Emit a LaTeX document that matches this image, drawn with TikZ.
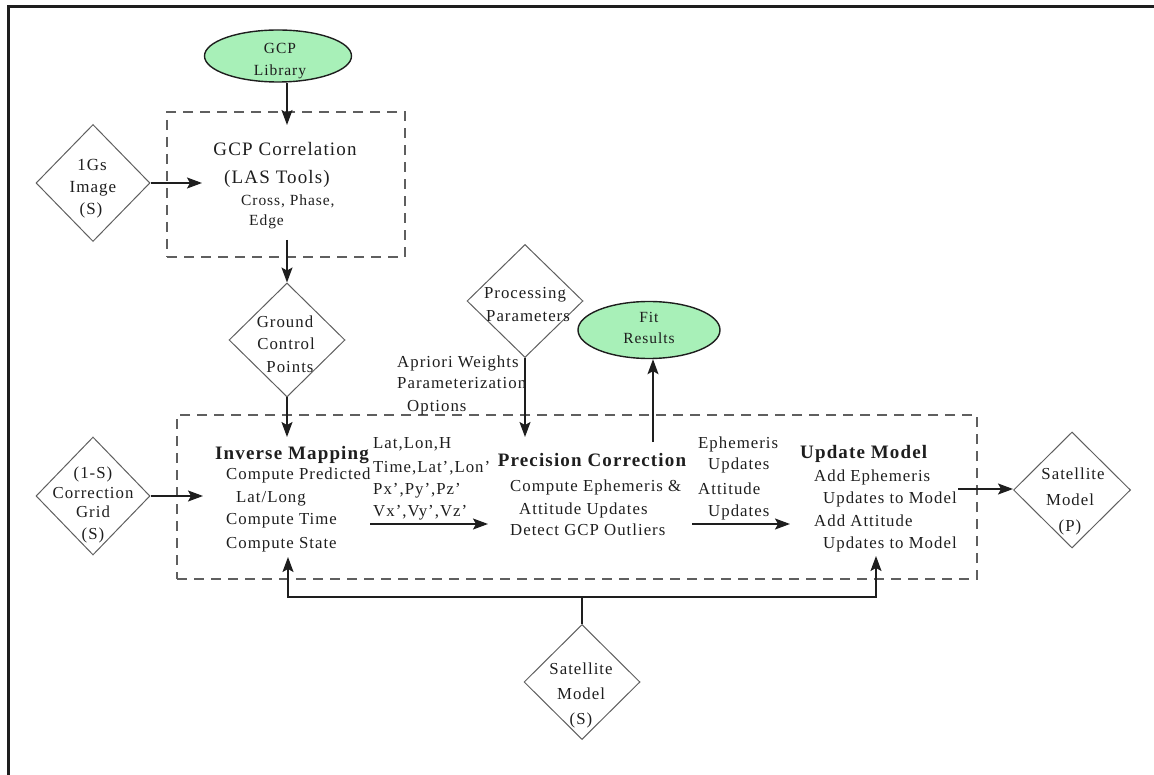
\documentclass[tikz,border=0pt]{standalone}
\usepackage{fontspec}
\setmainfont{Liberation Serif}[LetterSpace=6]
\usetikzlibrary{shapes.geometric,arrows.meta}
\definecolor{pgreen}{RGB}{168,240,184}
\definecolor{lgray}{RGB}{95,95,95}
\definecolor{ink}{RGB}{30,30,30}
\begin{document}
\begin{tikzpicture}[x=1pt,y=-1pt,
  lbl/.style={inner sep=0pt, text height=12pt, text depth=0pt, text=ink},
  hd/.style={lbl, font=\fontsize{19}{22}\selectfont},
  hb/.style={lbl, font=\fontsize{19}{22}\selectfont\bfseries},
  bd/.style={lbl, font=\fontsize{16.8}{22}\selectfont},
  sm/.style={lbl, font=\fontsize{15.5}{20}\selectfont},
  dt/.style={lbl, font=\fontsize{17}{22}\selectfont},
  dia/.style={diamond, draw=lgray, line width=1pt, inner sep=0pt},
  ell/.style={ellipse, draw=ink, fill=pgreen, line width=1.4pt, inner sep=0pt},
  dbox/.style={rectangle, draw=lgray, line width=1.6pt, dash pattern=on 10pt off 7pt, inner sep=0pt},
  arr/.style={draw=ink, line width=1.4pt, -{Stealth[length=15pt,width=11pt,inset=3pt]}},
  ln/.style={draw=ink, line width=1.4pt}]
\useasboundingbox (0,0) rectangle (1154,775);
% frame
\draw[line width=3pt, draw=ink] (8,775) -- (8,7) -- (1154,7);

% shapes
\node[ell, minimum width=147pt, minimum height=52pt] (lib) at (278,56) {};
\node[dbox, minimum width=238pt, minimum height=145pt] (box1) at (286,184.5) {};
\node[dia, minimum width=114pt, minimum height=117pt] (img) at (93,183) {};
\node[dia, minimum width=116pt, minimum height=114pt] (gcp) at (287,340) {};
\node[dbox, minimum width=800pt, minimum height=164pt] (box2) at (577,497) {};
\node[dia, minimum width=114pt, minimum height=118pt] (grid) at (93,496) {};
\node[dia, minimum width=116pt, minimum height=113pt] (proc) at (525,301) {};
\node[ell, minimum width=142pt, minimum height=57pt] (fit) at (649,330) {};
\node[dia, minimum width=117pt, minimum height=116pt] (satp) at (1072,490) {};
\node[dia, minimum width=116pt, minimum height=115pt] (sats) at (582,682) {};

% shape texts
\node[sm] (libt1) at (280,48) {GCP};
\node[sm] (libt2) at (280,70) {Library};
\node[dt] (imgt1) at (92,165) {1Gs};
\node[dt] (imgt2) at (93,187) {Image};
\node[dt] (imgt3) at (91,209) {(S)};
\node[bd] (gcpt1) at (285,322) {Ground};
\node[bd] (gcpt2) at (286,344) {Control};
\node[bd] (gcpt3) at (290,367) {Points};
\node[bd] (gridt1) at (93,472) {(1-S)};
\node[bd] (gridt2) at (93,492) {Correction};
\node[bd] (gridt3) at (93,511) {Grid};
\node[bd] (gridt4) at (93,533) {(S)};
\node[bd] (proct1) at (525,293) {Processing};
\node[bd] (proct2) at (528,316) {Parameters};
\node[sm] (fitt1) at (649,317) {Fit};
\node[sm] (fitt2) at (649,338) {Results};
\node[bd] (satpt1) at (1073,473) {Satellite};
\node[bd] (satpt2) at (1070,499) {Model};
\node[bd] (satpt3) at (1070,525) {(P)};
\node[bd] (satst1) at (581,668) {Satellite};
\node[bd] (satst2) at (581,693) {Model};
\node[bd] (satst3) at (581,718) {(S)};

% GCP correlation block
\node[hd] (corr1) at (285,150) {GCP Correlation};
\node[hd] (corr2) at (277,178) {(LAS Tools)};
\node[sm, anchor=west] (corr3) at (241,200) {Cross, Phase,};
\node[sm, anchor=west] (corr4) at (249,220) {Edge};

% Inverse mapping block
\node[hb, anchor=west] (inv0) at (215,453) {Inverse Mapping};
\node[bd, anchor=west] (inv1) at (226,473) {Compute Predicted};
\node[bd, anchor=west] (inv2) at (236,496) {Lat/Long};
\node[bd, anchor=west] (inv3) at (226,518) {Compute Time};
\node[bd, anchor=west] (inv4) at (226,542) {Compute State};

% labels between inverse mapping and precision correction
\node[bd, anchor=west] (l1) at (373,443) {Lat,Lon,H};
\node[bd, anchor=west] (l2) at (373,466) {Time,Lat',Lon'};
\node[bd, anchor=west] (l3) at (373,488) {Px',Py',Pz'};
\node[bd, anchor=west] (l4) at (373,510) {Vx',Vy',Vz'};

% processing parameter labels
\node[bd, anchor=west] (p1) at (397,362) {Apriori Weights};
\node[bd, anchor=west] (p2) at (397,383) {Parameterization};
\node[bd, anchor=west] (p3) at (407,405) {Options};

% precision correction block
\node[hb] (pc0) at (592,460) {Precision Correction};
\node[bd, anchor=west] (pc1) at (510,485) {Compute Ephemeris \&};
\node[bd, anchor=west] (pc2) at (519,508) {Attitude Updates};
\node[bd, anchor=west] (pc3) at (510,529) {Detect GCP Outliers};

% update labels
\node[bd, anchor=west] (u1) at (698,442) {Ephemeris};
\node[bd, anchor=west] (u2) at (708,463) {Updates};
\node[bd, anchor=west] (u3) at (698,488) {Attitude};
\node[bd, anchor=west] (u4) at (708,510) {Updates};

% update model block
\node[hb, anchor=west] (um0) at (800,452) {Update Model};
\node[bd, anchor=west] (um1) at (814,475) {Add Ephemeris};
\node[bd, anchor=west] (um2) at (823,497) {Updates to Model};
\node[bd, anchor=west] (um3) at (814,520) {Add Attitude};
\node[bd, anchor=west] (um4) at (823,542) {Updates to Model};

% connector end points
\coordinate (c1) at (287,125);
\coordinate (c2) at (202,183);
\coordinate (c3) at (287,240);
\coordinate (c4) at (287,437);
\coordinate (c5) at (203,496);
\coordinate (c6a) at (370,524);
\coordinate (c6b) at (488,524);
\coordinate (c7) at (525,437);
\coordinate (c8) at (653,442);
\coordinate (c9a) at (692,524);
\coordinate (c9b) at (790,524);
\coordinate (c10) at (958,489);
\coordinate (busl) at (288,597);
\coordinate (busr) at (876,597);
\coordinate (c11a) at (288,557);
\coordinate (c11b) at (876,556);

% connectors
\draw[arr] (lib.south -| c1) -- (c1);
\draw[arr] (img.east) -- (c2);
\draw[arr] (c3) -- (gcp.north);
\draw[arr] (gcp.south) -- (c4);
\draw[arr] (grid.east) -- (c5);
\draw[arr] (c6a) -- (c6b);
\draw[arr] (proc.south) -- (c7);
\draw[arr] (c8) -- (fit.south -| c8);
\draw[arr] (c9a) -- (c9b);
\draw[arr] (c10) -- (c10 -| satp.west);
\draw[ln] (sats.north) -- (sats.north |- busl);
\draw[arr] (sats.north |- busl) -- (busl) -- (c11a);
\draw[arr] (sats.north |- busr) -- (busr) -- (c11b);
\end{tikzpicture}
\end{document}
